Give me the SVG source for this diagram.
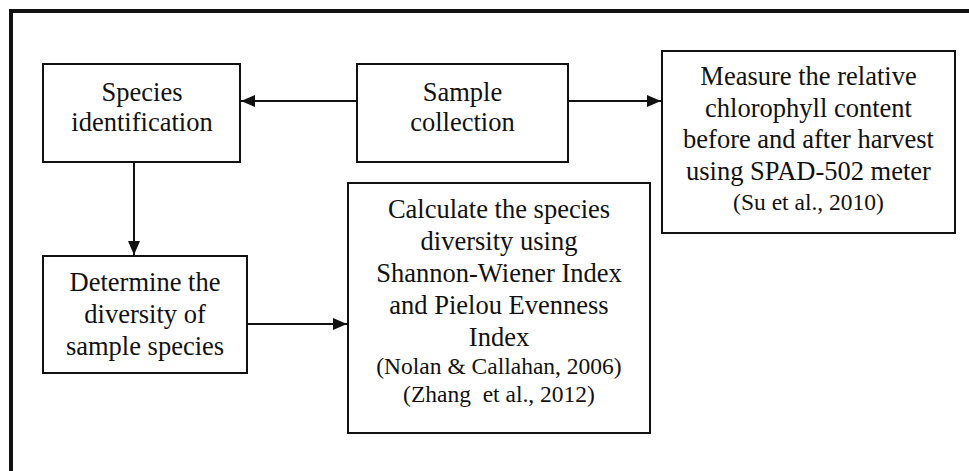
<svg xmlns="http://www.w3.org/2000/svg" width="969" height="471" viewBox="0 0 969 471">
<style>
.box{fill:#fff;stroke:#111;stroke-width:2}
text{font-family:'Liberation Serif','Times New Roman',Times,serif;font-size:26.5px;fill:#111;text-anchor:middle}
.r{font-size:23.5px}
.c{stroke:#111;stroke-width:2;fill:none}
</style>
<defs>
<marker id="ah" markerWidth="14" markerHeight="12" refX="14" refY="6" orient="auto" markerUnits="userSpaceOnUse">
<path d="M0,0 L14,6 L0,12 Z" fill="#111"/>
</marker>
</defs>
<rect width="969" height="471" fill="#fff"/>
<path d="M11,471 V11 H969" fill="none" stroke="#111" stroke-width="4"/>
<g id="connectors">
<line class="c" x1="357" y1="101" x2="241" y2="101" marker-end="url(#ah)"/>
<line class="c" x1="568" y1="101" x2="661" y2="101" marker-end="url(#ah)"/>
<line class="c" x1="134" y1="162" x2="134" y2="255" marker-end="url(#ah)"/>
<line class="c" x1="247" y1="324" x2="347" y2="324" marker-end="url(#ah)"/>
</g>
<g id="species-identification">
<rect class="box" x="43" y="64" width="197" height="98"/>
<text x="142" y="101">Species</text>
<text x="142" y="131">identification</text>
</g>
<g id="sample-collection">
<rect class="box" x="357" y="64" width="211" height="98"/>
<text x="462.5" y="101">Sample</text>
<text x="462.5" y="131">collection</text>
</g>
<g id="measure-chlorophyll">
<rect class="box" x="662" y="51" width="293" height="182"/>
<text x="808.5" y="85">Measure the relative</text>
<text x="808.5" y="117">chlorophyll content</text>
<text x="808.5" y="148">before and after harvest</text>
<text x="808.5" y="180">using SPAD-502 meter</text>
<text class="r" x="808.5" y="210">(Su et al., 2010)</text>
</g>
<g id="determine-diversity">
<rect class="box" x="43" y="256" width="204" height="117"/>
<text x="145" y="291">Determine the</text>
<text x="145" y="323">diversity of</text>
<text x="145" y="355">sample species</text>
</g>
<g id="calculate-diversity">
<rect class="box" x="348" y="183" width="302" height="250"/>
<text x="499" y="218">Calculate the species</text>
<text x="499" y="250">diversity using</text>
<text x="499" y="282">Shannon-Wiener Index</text>
<text x="499" y="314">and Pielou Evenness</text>
<text x="499" y="346">Index</text>
<text class="r" x="499" y="374">(Nolan &amp; Callahan, 2006)</text>
<text class="r" x="499" y="402" xml:space="preserve">(Zhang  et al., 2012)</text>
</g>
</svg>
